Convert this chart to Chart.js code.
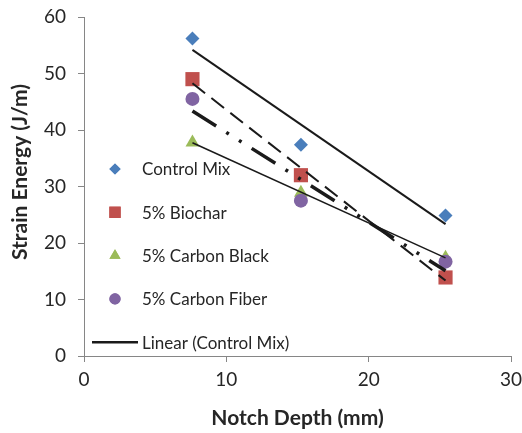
<!DOCTYPE html>
<html>
<head>
<meta charset="utf-8">
<script src="https://cdn.jsdelivr.net/npm/chart.js@4/dist/chart.umd.min.js"></script>
<style>
  html, body { margin: 0; padding: 0; background: #fff; }
  #wrap { width: 522px; height: 433px; }
</style>
</head>
<body>
<div id="wrap"><canvas id="c"></canvas></div>
<script>
// Notch depths (mm) and measured strain energy (J/m)
const notchDepth = [7.62, 15.24, 25.4];
const controlMix = [56.2, 37.4, 24.85];
const biochar = [49.0, 32.0, 13.9];
const carbonBlack = [37.8, 28.9, 17.4];
const carbonFiber = [45.5, 27.5, 16.7];

// Linear trendline end points
const trendX = [7.62, 25.4];
const trendControl = [54.17, 23.33];
const trendBiochar = [48.26, 13.35];
const trendBlack = [37.74, 17.36];
const trendFiber = [43.36, 15.1];

const xTicks = [0, 10, 20, 30];
const yTicks = [0, 10, 20, 30, 40, 50, 60];

const FONT = "Lato, 'Noto Sans', sans-serif";
const TEXT = "#262626";
const LINE = "#1a1a1a";
const AXIS = "#868686";

const pts = (xs, ys) => xs.map((x, i) => ({ x, y: ys[i] }));

function scatterSet(label, ys, color, style, radius, order) {
  return {
    label,
    data: pts(notchDepth, ys),
    showLine: false,
    pointStyle: style,
    pointRadius: radius,
    pointHoverRadius: radius,
    pointBackgroundColor: color,
    pointBorderColor: color,
    pointBorderWidth: 0,
    backgroundColor: color,
    borderColor: color,
    order,
    inLegend: true,
  };
}

function trendSet(label, ys, width, dash, order, inLegend) {
  return {
    label,
    data: pts(trendX, ys),
    showLine: true,
    borderColor: LINE,
    borderWidth: width,
    borderDash: dash,
    borderCapStyle: "butt",
    pointRadius: 0,
    fill: false,
    order,
    inLegend,
  };
}

// Legend inside the plot on the left, plus the y axis title (Excel does not
// centre it exactly on the plot area)
const insideLegend = {
  id: "insideLegend",
  afterDraw(chart) {
    const ctx = chart.ctx;
    const area = chart.chartArea;
    const items = chart.data.datasets.filter((d) => d.inLegend);
    const markX = area.left + 31;
    const textX = area.left + 58;
    let y = area.top + 152;
    const gap = 43.3;
    ctx.save();
    ctx.font = "17px " + FONT;
    ctx.textBaseline = "middle";
    items.forEach((d) => {
      if (d.showLine) {
        ctx.strokeStyle = d.borderColor;
        ctx.lineWidth = 2.5;
        ctx.setLineDash(d.borderDash || []);
        ctx.beginPath();
        ctx.moveTo(area.left + 8, y);
        ctx.lineTo(area.left + 54, y);
        ctx.stroke();
        ctx.setLineDash([]);
      } else {
        ctx.fillStyle = d.pointBackgroundColor;
        ctx.beginPath();
        Chart.helpers.drawPoint(ctx, { pointStyle: d.pointStyle, radius: d.pointRadius * 0.8, borderWidth: 0 }, markX, y);
        ctx.fill();
      }
      ctx.fillStyle = TEXT;
      ctx.fillText(d.label, textX, y + 1);
      y += gap;
    });

    // y axis title
    ctx.translate(20, 172);
    ctx.rotate(-Math.PI / 2);
    ctx.font = "bold 21px " + FONT;
    ctx.textAlign = "center";
    ctx.fillStyle = TEXT;
    ctx.fillText("Strain Energy (J/m)", 0, 0);
    ctx.restore();
  },
};

// keep the plot box where Excel put it, whatever the tick labels overhang
const noOverhang = (s) => {
  s.paddingTop = 0;
  s.paddingBottom = 0;
  s.paddingLeft = 0;
  s.paddingRight = 0;
};

new Chart(document.getElementById("c"), {
  type: "scatter",
  data: {
    datasets: [
      scatterSet("Control Mix", controlMix, "#4A7EBB", "rectRot", 7, 8),
      scatterSet("5% Biochar", biochar, "#C0504D", "rect", 10, 7),
      scatterSet("5% Carbon Black", carbonBlack, "#9BBB59", "triangle", 8, 6),
      scatterSet("5% Carbon Fiber", carbonFiber, "#8064A2", "circle", 7, 5),
      trendSet("Linear (Control Mix)", trendControl, 2, [], 1, true),
      trendSet("Linear (5% Biochar)", trendBiochar, 2, [16, 8], 2, false),
      trendSet("Linear (5% Carbon Black)", trendBlack, 1.5, [], 3, false),
      trendSet("Linear (5% Carbon Fiber)", trendFiber, 3.5, [28, 12, 3, 12, 3, 12], 4, false),
    ],
  },
  options: {
    responsive: true,
    maintainAspectRatio: false,
    animation: false,
    layout: { padding: { top: 17, right: 11, left: 0, bottom: 0 } },
    plugins: {
      legend: { display: false },
      tooltip: { enabled: false },
    },
    scales: {
      x: {
        type: "linear",
        min: 0,
        max: 30,
        afterBuildTicks: (s) => { s.ticks = xTicks.map((v) => ({ value: v })); },
        afterFit: (s) => { s.height = 77; noOverhang(s); },
        ticks: { font: { family: FONT, size: 19 }, color: TEXT, padding: 6 },
        grid: { drawOnChartArea: false, tickLength: 6, color: AXIS },
        border: { color: AXIS, width: 1 },
        title: {
          display: true,
          text: "Notch Depth (mm)",
          font: { family: FONT, size: 21, weight: "bold" },
          color: TEXT,
          padding: { top: 0, bottom: 2 },
        },
      },
      y: {
        type: "linear",
        min: 0,
        max: 60,
        afterBuildTicks: (s) => { s.ticks = yTicks.map((v) => ({ value: v })); },
        afterFit: (s) => { s.width = 84; noOverhang(s); },
        ticks: { font: { family: FONT, size: 19 }, color: TEXT, padding: 12 },
        grid: { drawOnChartArea: false, tickLength: 6, color: AXIS },
        border: { color: AXIS, width: 1 },
      },
    },
  },
  plugins: [insideLegend],
});
</script>
</body>
</html>
